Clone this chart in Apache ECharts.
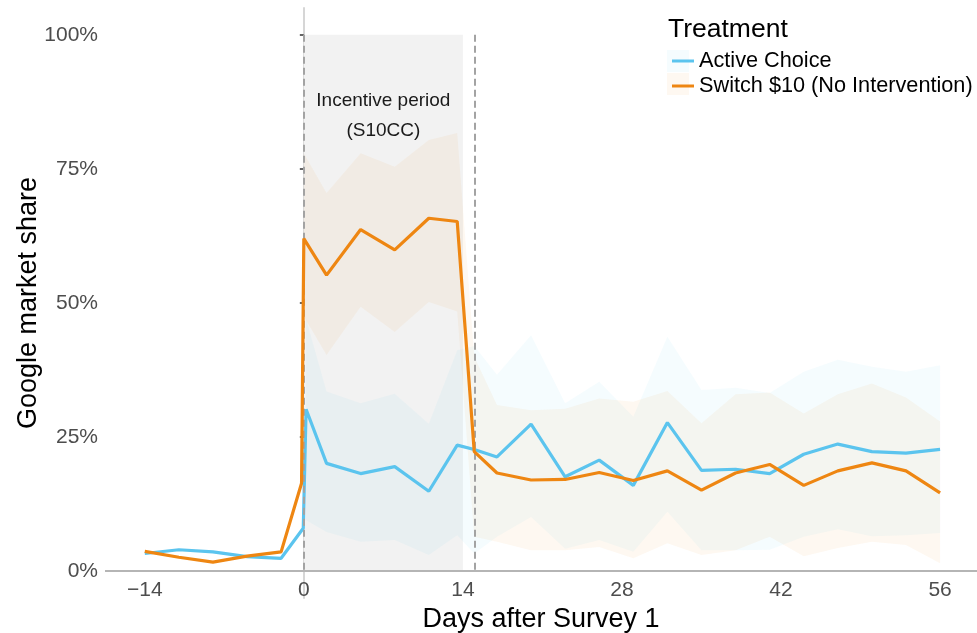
<!DOCTYPE html>
<html><head><meta charset="utf-8">
<script src="https://cdn.jsdelivr.net/npm/echarts@6/dist/echarts.min.js"></script>
<style>html,body{margin:0;padding:0;background:#fff}#c{width:977px;height:633px}</style>
</head><body><div id="c"></div>
<script>
// ---- data (percent) ----
const xTicks = [-14, 0, 14, 28, 42, 56];
const yTicks = [0, 25, 50, 75, 100];

const activeDays  = [-14, -11, -8, -5, -2, -0.05, 0.2, 2, 5, 8, 11, 13.5, 15, 17, 20, 23, 26, 29, 32, 35, 38, 41, 44, 47, 50, 53, 56];
const activeShare = [3.3, 4.0, 3.6, 2.7, 2.4, 8.0, 30.2, 20.1, 18.2, 19.5, 14.9, 23.5, 22.7, 21.3, 27.4, 17.6, 20.7, 16.0, 27.7, 18.8, 19.0, 18.2, 21.8, 23.7, 22.3, 22.0, 22.7];

const switchDays  = [-14, -11, -8, -5, -2, -0.2, 0, 2, 5, 8, 11, 13.5, 15, 17, 20, 23, 26, 29, 32, 35, 38, 41, 44, 47, 50, 53, 56];
const switchShare = [3.7, 2.6, 1.7, 2.8, 3.6, 16.4, 62.0, 55.2, 63.7, 59.9, 65.8, 65.2, 22.3, 18.3, 17.0, 17.1, 18.4, 16.9, 18.7, 15.1, 18.3, 19.9, 16.0, 18.7, 20.2, 18.7, 14.6];

const activeBandDays = [0.2, 2, 5, 8, 11, 13.5, 15, 17, 20, 23, 26, 29, 32, 35, 38, 41, 44, 47, 50, 53, 56];
const activeLower    = [9.5, 7.3, 5.5, 5.8, 3.0, 6.7, 3.3, 6.4, 10.1, 4.2, 5.8, 3.6, 11.1, 3.9, 3.9, 4.0, 6.4, 7.8, 6.5, 6.7, 7.1];
const activeUpper    = [47.0, 33.5, 31.3, 33.1, 27.5, 41.2, 42.0, 36.6, 44.0, 31.3, 35.3, 28.8, 43.7, 33.8, 34.2, 33.2, 37.2, 39.4, 38.1, 37.2, 38.4];

const switchBandDays = [0, 2, 5, 8, 11, 13.5, 15, 17, 20, 23, 26, 29, 32, 35, 38, 41, 44, 47, 50, 53, 56];
const switchLower    = [47.5, 40.3, 49.3, 44.6, 50.2, 48.4, 6.4, 5.5, 3.9, 3.9, 4.5, 2.4, 5.2, 3.0, 3.9, 6.4, 2.8, 4.3, 5.5, 4.9, 1.5];
const switchUpper    = [77.9, 70.5, 77.9, 75.4, 80.4, 81.7, 40.0, 31.0, 30.0, 30.3, 32.2, 31.6, 33.6, 27.6, 33.0, 33.3, 29.4, 33.0, 35.0, 32.4, 27.9];

const incentiveRange = [0, 14];
const markerDays = [0, 15];
const seriesNames = ['Active Choice', 'Switch $10 (No Intervention)'];

// ---- styles ----
const BLUE = '#5BC4EE', ORANGE = '#EE8612';
const BLUE_FILL = 'rgba(91,196,238,0.06)', ORANGE_FILL = 'rgba(238,134,18,0.06)';
const FONT = 'Liberation Sans, Arial, sans-serif';

const zip = (a, b) => a.map((v, i) => [v, b[i]]);

function band(name, days, lo, hi, fill) {
  return {
    name: name, type: 'custom', silent: true, z: 2,
    data: days.map((d, i) => [d, lo[i], hi[i]]),
    encode: { x: 0, y: [1, 2] },
    renderItem: function (params, api) {
      if (params.dataIndex !== 0) return null;
      const pts = [];
      for (let i = 0; i < days.length; i++) pts.push(api.coord([days[i], hi[i]]));
      for (let i = days.length - 1; i >= 0; i--) pts.push(api.coord([days[i], lo[i]]));
      return { type: 'polygon', shape: { points: pts }, style: { fill: fill, stroke: null } };
    }
  };
}

const chart = echarts.init(document.getElementById('c'), null, { renderer: 'canvas' });
chart.setOption({
  animation: false,
  backgroundColor: '#fff',
  textStyle: { fontFamily: FONT },
  grid: { left: 105, right: 0, top: 8, bottom: 35, outerBoundsMode: 'none', containLabel: false },
  title: { text: 'Treatment', left: 663, top: 11,
    textStyle: { fontFamily: FONT, fontSize: 26.5, fontWeight: 'normal', color: '#000' } },
  legend: {
    data: seriesNames, orient: 'vertical', left: 667, top: 45,
    icon: 'rect', itemWidth: 22, itemHeight: 3, itemGap: 3,
    textStyle: { fontFamily: FONT, fontSize: 21.7, color: '#000' }
  },
  graphic: [
    { type: 'rect', left: 667, top: 50, z: 1, shape: { width: 22, height: 22 }, style: { fill: BLUE_FILL } },
    { type: 'rect', left: 667, top: 73, z: 1, shape: { width: 22, height: 22 }, style: { fill: ORANGE_FILL } }
  ],
  xAxis: {
    type: 'value', min: -17.5, max: 59.25,
    name: 'Days after Survey 1', nameLocation: 'middle', nameGap: 8, nameMoveOverlap: false,
    nameTextStyle: { fontFamily: FONT, fontSize: 27, color: '#000', verticalAlign: 'top' },
    axisLine: { show: false }, axisTick: { show: false }, splitLine: { show: false },
    axisLabel: { customValues: xTicks, margin: -18, fontSize: 21, color: '#4d4d4d', fontFamily: FONT,
      formatter: v => v < 0 ? '\u2212' + Math.abs(v) : String(v) }
  },
  yAxis: {
    type: 'value', min: -5, max: 105,
    name: 'Google market share', nameLocation: 'middle', nameGap: 63, nameRotate: 90, nameMoveOverlap: false,
    nameTextStyle: { fontFamily: FONT, fontSize: 27, color: '#000' },
    axisLine: { show: true, lineStyle: { color: '#d6d6d6', width: 2 } },
    axisTick: { show: true, customValues: yTicks, length: 4, lineStyle: { color: '#333', width: 1.5 } },
    splitLine: { show: false },
    axisLabel: { customValues: yTicks, margin: 7, fontSize: 21, color: '#4d4d4d', fontFamily: FONT,
      formatter: v => v + '%' }
  },
  series: [
    { name: 'bg', type: 'line', data: [], z: 1, silent: true,
      markArea: { silent: true, itemStyle: { color: '#f2f2f2' },
        label: { show: true, position: 'insideTop', distance: 51, fontSize: 19, lineHeight: 30,
          color: '#1a1a1a', fontFamily: FONT, formatter: 'Incentive period\n(S10CC)' },
        data: [[{ xAxis: incentiveRange[0], yAxis: 0 }, { xAxis: incentiveRange[1], yAxis: 100 }]] },
      markLine: { silent: true, symbol: 'none', label: { show: false },
        data: [{ yAxis: 0, lineStyle: { color: '#b5b5b5', width: 2, type: 'solid' } }] }
    },
    band('Active band', activeBandDays, activeLower, activeUpper, BLUE_FILL),
    band('Switch band', switchBandDays, switchLower, switchUpper, ORANGE_FILL),
    { name: 'markers', type: 'line', data: [], z: 3, silent: true,
      markLine: { silent: true, symbol: 'none', label: { show: false },
        lineStyle: { color: '#a3a3a3', width: 2, type: [7, 4] },
        data: markerDays.map(d => [{ coord: [d, 100] }, { coord: [d, 0] }]) } },
    { name: seriesNames[0], type: 'line', data: zip(activeDays, activeShare), symbol: 'none',
      lineStyle: { color: BLUE, width: 3.2 }, itemStyle: { color: BLUE }, z: 4 },
    { name: seriesNames[1], type: 'line', data: zip(switchDays, switchShare), symbol: 'none',
      lineStyle: { color: ORANGE, width: 3.2 }, itemStyle: { color: ORANGE }, z: 5 }
  ]
});
</script></body></html>
